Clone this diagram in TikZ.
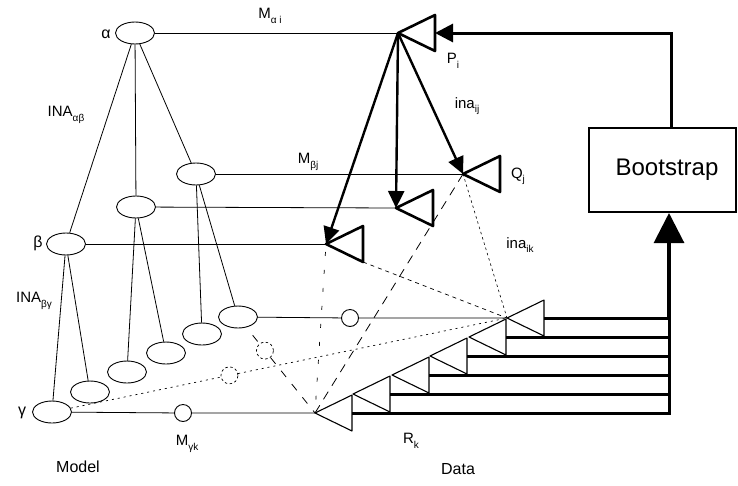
\documentclass[tikz,border=0pt]{standalone}
\usepackage{fontspec}
\setmainfont{Liberation Sans}
\usetikzlibrary{arrows.meta,shapes.geometric,calc}
\newcommand{\lsub}[1]{\raisebox{-0.55ex}{\fontsize{10}{10}\selectfont #1}}
% triangle pointing left: style, name, apex x, apex y
\newcommand{\dtri}[4]{%
  \coordinate (#2) at (#3,#4);
  \coordinate (#2-t) at ($(#2)+(37,-18)$);
  \coordinate (#2-b) at ($(#2)+(37,18)$);
  \coordinate (#2-r) at ($(#2)+(37,0)$);
  \draw[#1] (#2) -- (#2-t) -- (#2-b) -- cycle;}
\begin{document}
\begin{tikzpicture}[x=1pt,y=-1pt,
  thinl/.style={line width=0.8pt},
  ell/.style={ellipse, draw, line width=0.9pt, minimum width=39pt, minimum height=22pt, inner sep=0pt},
  smallc/.style={circle, draw, line width=0.9pt, minimum size=17pt, inner sep=0pt},
  hidc/.style={circle, draw, dash pattern=on 2.5pt off 2.5pt, line width=0.7pt, minimum size=17pt, inner sep=0pt},
  lab/.style={font=\fontsize{15}{15}\selectfont, inner sep=0pt},
  grk/.style={font=\fontsize{16}{16}\selectfont, inner sep=0pt},
  biglab/.style={font=\fontsize{16}{16}\selectfont, inner sep=0pt},
  thicktri/.style={line width=2.6pt, line join=round},
  thintri/.style={line width=1.1pt, line join=round},
  parr/.style={line width=2.4pt, -{Triangle[length=17pt,width=16pt]}},
  bus/.style={line width=3pt},
  bootbox/.style={draw, line width=2pt, minimum width=147pt, minimum height=84pt, inner sep=0pt}
]
\useasboundingbox (0,0) rectangle (738,485);

% ---- model ellipses
\node[ell] (a) at (135,33) {};
\node[ell] (j) at (196,174) {};
\node[ell] (m) at (136,207) {};
\node[ell] (b) at (66,244) {};
\node[ell] (e1) at (238,317) {};
\node[ell] (e2) at (202,334) {};
\node[ell] (e3) at (166,353) {};
\node[ell] (e4) at (127,372) {};
\node[ell] (e5) at (90,392) {};
\node[ell] (g) at (52,412) {};

\draw[thinl] (a) -- (b);
\draw[thinl] (a) -- (m);
\draw[thinl] (a) -- (j);
\draw[thinl] (m) -- (e4);
\draw[thinl] (m) -- (e3);
\draw[thinl] (j) -- (e2);
\draw[thinl] (j) -- (e1);
\draw[thinl] (b) -- (g);
\draw[thinl] (b) -- (e5);

% ---- data triangles
\dtri{thicktri}{P}{398}{33}
\dtri{thicktri}{Q}{463}{174}
\dtri{thicktri}{Mt}{396}{208}
\dtri{thicktri}{Bt}{326}{244}
\dtri{thintri}{R1}{507}{318}
\dtri{thintri}{R2}{469}{337}
\dtri{thintri}{R3}{430}{356}
\dtri{thintri}{R4}{392}{375}
\dtri{thintri}{R5}{353}{394}
\dtri{thintri}{R6}{315}{413}

% ---- small circles
\node[smallc] (c1) at (350,318) {};
\node[smallc] (c6) at (183,413) {};
\node[hidc] (h1) at ($(g)!0.39!(R1)$) {};
\node[hidc] (h2) at ($(e1)!0.35!(R6)$) {};

% ---- horizontal model-data links
\draw[thinl] (a) -- (P);
\draw[thinl] (j) -- (Q);
\draw[thinl] (m) -- (Mt);
\draw[thinl] (b) -- (Bt);
\draw[thinl] (e1) -- (c1) -- (R1);
\draw[thinl] (g) -- (c6) -- (R6);

% ---- arrows from P
\draw[parr] (P) -- (Q);
\draw[parr] (P) -- (Mt);
\draw[parr] (P) -- (Bt);

% ---- dashed / dotted links
\draw[line width=0.7pt, dash pattern=on 4pt off 4pt] (Bt-b) -- (R1);
\draw[line width=0.6pt, dash pattern=on 2.5pt off 3pt] (Q) -- (R1);
\draw[line width=0.8pt, dash pattern=on 9pt off 7pt] (Q) -- (R6);
\draw[line width=0.7pt, dash pattern=on 4pt off 14pt, shorten <=8pt] (Bt) -- (R6);
\draw[line width=0.7pt, dash pattern=on 2pt off 4pt] (g) -- (h1) -- (R1);
\draw[line width=0.8pt, dash pattern=on 8pt off 7pt, shorten <=10pt] (e1) -- (h2);
\draw[line width=0.8pt, dash pattern=on 8pt off 9pt] (h2) -- (R6);

% ---- bootstrap
\node[bootbox] (boot) at (662,170) {};
\node[font=\fontsize{24}{24}\selectfont, inner sep=0pt] (boottext) at (667,170) {Bootstrap};
\coordinate (bin) at ($(boot.south)+(7,0)$);
\coordinate (bout) at ($(boot.north)+(9,0)$);
\draw[bus, -{Triangle[length=30pt,width=30pt]}] (R6-r) -| (bin);
\foreach \i in {1,...,5} {\draw[bus] (R\i-r) -- (R\i-r -| bin);}
\draw[line width=4pt] ($(R1-r -| bin)+(0,2)$) -- ($(bin)+(0,30)$);
\draw[line width=3pt, -{Triangle[length=18pt,width=18pt]}] (bout) |- (P-r);

% ---- labels
\node[grk] (la) at (106,34) {α};
\node[grk] (lb) at (38,243) {β};
\node[grk] (lg) at (22,413) {γ};
\node[lab] (lina) at (66,115) {INA\lsub{αβ}};
\node[lab] (linb) at (34,301) {INA\lsub{βγ}};
\node[lab] (lma) at (270,16) {M\lsub{α i}};
\node[lab] (lmb) at (308,162) {M\lsub{βj}};
\node[lab] (lmg) at (187,444) {M\lsub{γk}};
\node[lab] (lp) at (453,61) {P\lsub{i}};
\node[lab] (lq) at (518,176) {Q\lsub{j}};
\node[lab] (lr) at (411,441) {R\lsub{k}};
\node[lab] (lij) at (467,106) {ina\lsub{ij}};
\node[lab] (lik) at (520,245) {ina\lsub{ik}};
\node[biglab] (model) at (78,467) {Model};
\node[biglab] (data) at (458,469) {Data};
\end{tikzpicture}
\end{document}
